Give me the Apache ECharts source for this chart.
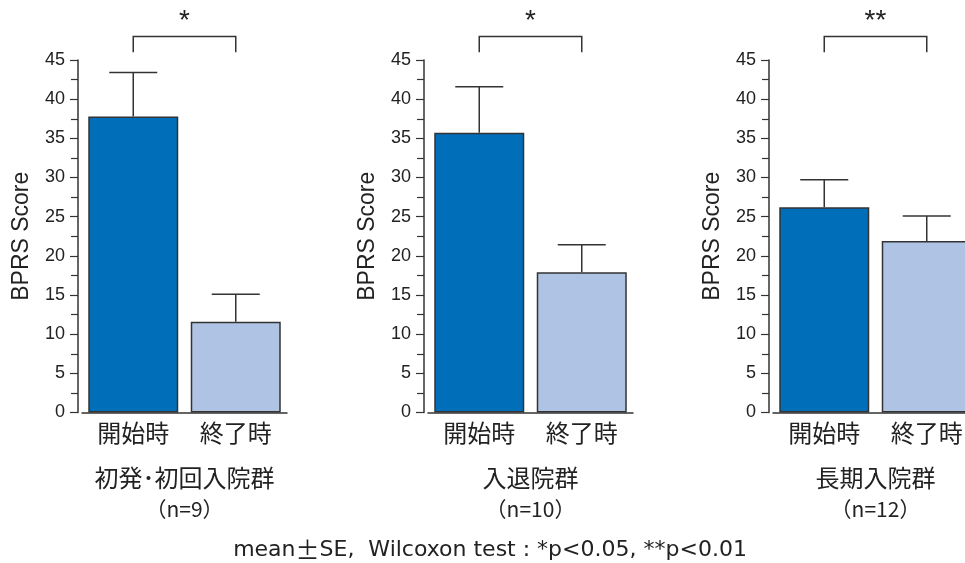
<!DOCTYPE html>
<html><head><meta charset="utf-8">
<script src="https://cdn.jsdelivr.net/npm/echarts@6/dist/echarts.min.js"></script>
<style>html,body{margin:0;padding:0;background:#fff;overflow:hidden}#c{width:980px;height:563px}</style>
</head><body><div id="c"></div>
<script>
const categories = ['開始時', '終了時'];
const groupNames = ['初発･初回入院群', '入退院群', '長期入院群'];
const groupN = ['（n=9）', '（n=10）', '（n=12）'];
const meanInitial = [37.8, 35.7, 26.2];
const meanFinal = [11.6, 17.9, 21.9];
const seInitial = [5.6, 5.9, 3.5];
const seFinal = [3.5, 3.5, 3.2];
const significance = ['*', '*', '**'];
const yTicks = [0, 5, 10, 15, 20, 25, 30, 35, 40, 45];

const colors = ['#006EB8', '#AFC4E4'];
const ink = '#333333';
const cjk = '"Noto Sans CJK JP", sans-serif';
const latin = '"Liberation Sans", Arial, sans-serif';
const wide = '"DejaVu Sans", sans-serif';

const lefts = [82, 428, 773];
const grids = [], xAxes = [], yAxes = [], series = [];
for (let i = 0; i < 3; i++) {
  grids.push({ left: lefts[i], width: 205, top: 60, height: 352.5, containLabel: false });
  xAxes.push({
    type: 'category', gridIndex: i, data: categories,
    axisLine: { lineStyle: { color: ink, width: 1.5 } },
    axisTick: { show: false },
    axisLabel: { fontFamily: cjk, fontSize: 24, color: '#222', margin: 8 },
    name: '{g|' + groupNames[i] + '}\n{n|' + groupN[i] + '}',
    nameLocation: 'middle', nameGap: 50,
    nameTextStyle: {
      rich: {
        g: { fontFamily: cjk, fontSize: 24, color: '#222', lineHeight: 30 },
        n: { fontFamily: cjk, fontSize: 21, color: '#222', lineHeight: 34 }
      }
    }
  });
  yAxes.push({
    type: 'value', gridIndex: i, min: yTicks[0], max: yTicks[yTicks.length - 1], interval: 5,
    offset: 4,
    axisLine: { show: true, lineStyle: { color: ink, width: 1.5 } },
    axisTick: { show: true, length: 8, lineStyle: { color: ink, width: 1.2 } },
    minorTick: { show: true, splitNumber: 2, length: 7, lineStyle: { color: ink, width: 1.2 } },
    splitLine: { show: false },
    axisLabel: { fontFamily: latin, fontSize: 18, color: '#222', margin: 13 },
    name: 'BPRS Score', nameLocation: 'middle', nameGap: 45, nameRotate: 90,
    nameTextStyle: { fontFamily: latin, fontSize: 23, color: '#222' }
  });
  const means = [meanInitial[i], meanFinal[i]];
  const ses = [seInitial[i], seFinal[i]];
  series.push({
    type: 'bar', xAxisIndex: i, yAxisIndex: i, barWidth: 90,
    data: means.map((v, k) => ({ value: v, itemStyle: { color: colors[k] } })),
    itemStyle: { borderColor: ink, borderWidth: 1.5 },
    z: 2
  });
  series.push({
    type: 'custom', xAxisIndex: i, yAxisIndex: i, z: 3,
    data: means.map((v, k) => [k, v, v + ses[k]]),
    renderItem: function (params, api) {
      const p0 = api.coord([api.value(0), api.value(1)]);
      const p1 = api.coord([api.value(0), api.value(2)]);
      const cap = 24;
      return {
        type: 'group', children: [
          { type: 'line', shape: { x1: p0[0], y1: p0[1], x2: p1[0], y2: p1[1] }, style: { stroke: ink, lineWidth: 1.5 } },
          { type: 'line', shape: { x1: p1[0] - cap, y1: p1[1], x2: p1[0] + cap, y2: p1[1] }, style: { stroke: ink, lineWidth: 1.5 } }
        ]
      };
    }
  });
  series.push({
    type: 'custom', xAxisIndex: i, yAxisIndex: i, z: 3, clip: false,
    data: [[0, 1, significance[i]]],
    renderItem: function (params, api) {
      const a = api.coord([0, 46]);
      const b = api.coord([1, 46]);
      const top = api.coord([0, 48])[1];
      const txtY = api.coord([0, 49.9])[1];
      const sig = significance[i];
      return {
        type: 'group', children: [
          { type: 'polyline', shape: { points: [[a[0], a[1]], [a[0], top], [b[0], top], [b[0], b[1]]] }, style: { stroke: ink, lineWidth: 1.5, fill: null } },
          { type: 'text', style: { text: sig, x: (a[0] + b[0]) / 2, y: txtY, align: 'center', verticalAlign: 'middle', font: '28px ' + latin, fill: '#222' } }
        ]
      };
    }
  });
}

const chart = echarts.init(document.getElementById('c'), null, { renderer: 'canvas' });
chart.setOption({
  animation: false,
  backgroundColor: '#fff',
  grid: grids, xAxis: xAxes, yAxis: yAxes, series: series,
  graphic: [{
    type: 'text', left: 'center', top: 538,
    style: {
      text: '{a|mean}{b|±}{a|SE,  Wilcoxon test : *p<0.05, **p<0.01}',
      rich: {
        a: { fontFamily: wide, fontSize: 22, fill: '#222' },
        b: { fontFamily: cjk, fontSize: 24, fill: '#222' }
      }
    }
  }]
});
</script></body></html>
